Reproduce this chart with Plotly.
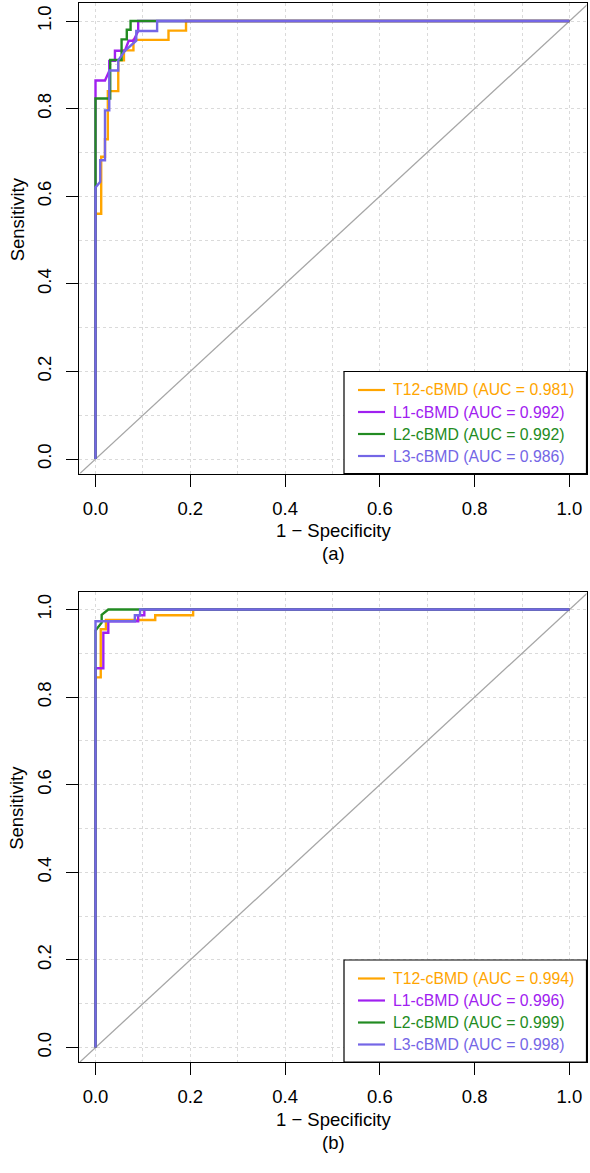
import plotly.graph_objects as go

# ---------------- data ----------------
SERIES = ["T12-cBMD", "L1-cBMD", "L2-cBMD", "L3-cBMD"]
COLORS = ["#FFA500", "#A020F0", "#228B22", "#7466E6"]

# Panel (a)
A_AUC = [0.981, 0.992, 0.992, 0.986]
A_T12_FPR = [0, 0, 0.012, 0.012, 0.02, 0.02, 0.026, 0.026, 0.048, 0.048, 0.06, 0.06, 0.08, 0.08, 0.154, 0.154, 0.191, 0.191, 1]
A_T12_TPR = [0, 0.56, 0.56, 0.69, 0.69, 0.73, 0.73, 0.84, 0.84, 0.91, 0.91, 0.933, 0.933, 0.957, 0.957, 0.978, 0.978, 1, 1]
A_L1_FPR = [0, 0, 0.02, 0.029, 0.029, 0.041, 0.041, 0.062, 0.07, 0.08, 0.09, 0.09, 1]
A_L1_TPR = [0, 0.864, 0.864, 0.886, 0.909, 0.909, 0.932, 0.932, 0.955, 0.955, 0.977, 1, 1]
A_L2_FPR = [0, 0, 0.031, 0.031, 0.055, 0.055, 0.066, 0.066, 0.074, 0.074, 1]
A_L2_TPR = [0, 0.823, 0.823, 0.911, 0.911, 0.958, 0.958, 0.98, 0.98, 1, 1]
A_L3_FPR = [0, 0, 0.01, 0.01, 0.02, 0.02, 0.029, 0.029, 0.048, 0.048, 0.062, 0.086, 0.086, 0.13, 0.13, 1]
A_L3_TPR = [0, 0.62, 0.633, 0.682, 0.682, 0.796, 0.796, 0.887, 0.887, 0.91, 0.932, 0.955, 0.977, 0.977, 1, 1]

# Panel (b)
B_AUC = [0.994, 0.996, 0.999, 0.998]
B_T12_FPR = [0, 0, 0.011, 0.011, 0.022, 0.022, 0.126, 0.126, 0.206, 0.206, 1]
B_T12_TPR = [0, 0.845, 0.845, 0.955, 0.955, 0.976, 0.976, 0.987, 0.987, 1, 1]
B_L1_FPR = [0, 0, 0.0165, 0.0165, 0.027, 0.027, 0.09, 0.09, 0.103, 0.103, 1]
B_L1_TPR = [0, 0.866, 0.866, 0.947, 0.947, 0.973, 0.973, 0.987, 0.987, 1, 1]
B_L2_FPR = [0, 0, 0.013, 0.013, 0.027, 1]
B_L2_TPR = [0, 0.952, 0.97, 0.988, 1, 1]
B_L3_FPR = [0, 0, 0.083, 0.083, 0.094, 0.094, 1]
B_L3_TPR = [0, 0.973, 0.973, 0.987, 0.987, 1, 1]

TICKS = [0, 0.2, 0.4, 0.6, 0.8, 1.0]
TICK_TEXT = ["0.0", "0.2", "0.4", "0.6", "0.8", "1.0"]
CHANCE = [-0.1, 1.1]
PANEL_LABELS = ["(a)", "(b)"]

# ---------------- layout helpers ----------------
W, H = 590, 1173
FONT = "Arial, Liberation Sans, sans-serif"
def xp(p):
    return p / W
def yp(p):
    return 1 - p / H

BOX_L, BOX_R = 79.4, 586.5
PANEL_TOP = [3.3, 591.8]
PANEL_BOT = [473.5, 1062.0]
GRID = "#DADADA"

fig = go.Figure()

panels = [
    (A_AUC, [(A_T12_FPR, A_T12_TPR), (A_L1_FPR, A_L1_TPR), (A_L2_FPR, A_L2_TPR), (A_L3_FPR, A_L3_TPR)]),
    (B_AUC, [(B_T12_FPR, B_T12_TPR), (B_L1_FPR, B_L1_TPR), (B_L2_FPR, B_L2_TPR), (B_L3_FPR, B_L3_TPR)]),
]

shapes = []
annotations = []
for i, (aucs, curves) in enumerate(panels):
    xa = "x" if i == 0 else "x2"
    ya = "y" if i == 0 else "y2"
    fig.add_trace(go.Scatter(x=CHANCE, y=CHANCE, mode="lines", xaxis=xa, yaxis=ya,
                             line=dict(color="#A6A6A6", width=1.3), showlegend=False, hoverinfo="skip"))
    for (fx, ty), col in zip(curves, COLORS):
        fig.add_trace(go.Scatter(x=fx, y=ty, mode="lines", xaxis=xa, yaxis=ya,
                                 line=dict(color=col, width=2.4, shape="linear"),
                                 showlegend=False))
    top, bot = PANEL_TOP[i], PANEL_BOT[i]
    axcommon = dict(
        ticks="outside", ticklen=12, tickwidth=1, tickcolor="black",
        showline=True, linecolor="black", linewidth=1, mirror=True,
        showgrid=True, gridcolor=GRID, griddash="dot", gridwidth=1,
        minor=dict(dtick=0.1, tick0=0, showgrid=True, gridcolor=GRID, griddash="dot", ticklen=0),
        zeroline=False, tickvals=TICKS, ticktext=TICK_TEXT,
        tickfont=dict(family=FONT, size=18.5, color="black"),
    )
    xname = "xaxis" if i == 0 else "xaxis2"
    yname = "yaxis" if i == 0 else "yaxis2"
    fig.layout[xname] = dict(axcommon, domain=[xp(BOX_L), xp(BOX_R)], range=[-0.034, 1.036],
                             anchor=ya, ticklabelstandoff=6)
    fig.layout[yname] = dict(axcommon, domain=[yp(bot), yp(top)], range=[-0.033, 1.0404],
                             anchor=xa, tickangle=-90, ticklabelstandoff=8)

    # axis titles and panel label
    annotations.append(dict(text="Sensitivity", x=xp(17), y=yp(top + 216), xref="paper", yref="paper",
                            textangle=-90, showarrow=False, xanchor="center", yanchor="middle",
                            font=dict(family=FONT, size=18.5, color="black")))
    annotations.append(dict(text="1 \u2212 Specificity", x=xp(333), y=yp(bot + 57), xref="paper", yref="paper",
                            showarrow=False, xanchor="center", yanchor="middle",
                            font=dict(family=FONT, size=18.5, color="black")))
    annotations.append(dict(text=PANEL_LABELS[i], x=xp(333), y=yp(bot + 80), xref="paper", yref="paper",
                            showarrow=False, xanchor="center", yanchor="middle",
                            font=dict(family=FONT, size=18.5, color="black")))

    # legend box
    leg_top = top + 368.2
    shapes.append(dict(type="rect", xref="paper", yref="paper", x0=xp(344), x1=xp(BOX_R),
                       y0=yp(bot), y1=yp(leg_top), line=dict(color="black", width=1.2),
                       fillcolor="white", layer="above"))
    for k, (name, col, auc) in enumerate(zip(SERIES, COLORS, aucs)):
        ry = leg_top + 18.5 + 22 * k
        shapes.append(dict(type="line", xref="paper", yref="paper", x0=xp(358), x1=xp(385),
                           y0=yp(ry), y1=yp(ry), line=dict(color=col, width=2.2), layer="above"))
        annotations.append(dict(text=f"{name} (AUC = {auc:.3f})", x=xp(391), y=yp(ry), xref="paper",
                                yref="paper", showarrow=False, xanchor="left", yanchor="middle",
                                font=dict(family=FONT, size=15.8, color=col)))

fig.update_layout(width=W, height=H, margin=dict(l=0, r=0, t=0, b=0),
                  paper_bgcolor="white", plot_bgcolor="white",
                  shapes=shapes, annotations=annotations, showlegend=False)

fig.write_html("out.html")
